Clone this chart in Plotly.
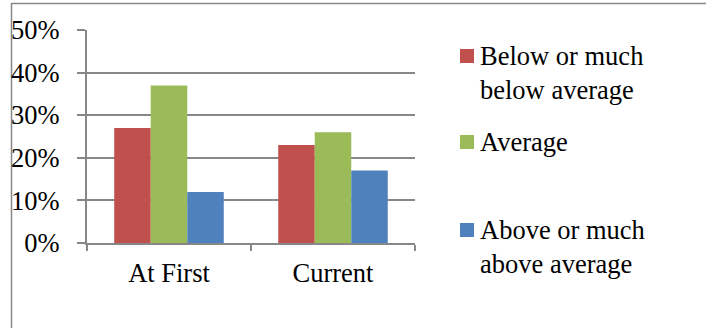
import plotly.graph_objects as go

# Survey results: share of respondents per rating, at first vs. currently
categories = ["At First", "Current"]
series_names = ["Below or much<br>below average", "Average", "Above or much<br>above average"]
below_values = [0.27, 0.23]
average_values = [0.37, 0.26]
above_values = [0.12, 0.17]
series_colors = ["#C0504D", "#9BBB59", "#4F81BD"]
y_ticks = [0, 0.1, 0.2, 0.3, 0.4, 0.5]

W, H = 706, 328
L, R, T, B = 87, 291, 30, 85
plot_w, plot_h = W - L - R, H - T - B

def px_x(px):
    return (px - L) / plot_w

def px_y(py):
    return (H - B - py) / plot_h

FONT = "Liberation Serif"
FS = 26.5
GRID = "#878787"

fig = go.Figure()
for name, vals, col in zip(series_names, [below_values, average_values, above_values], series_colors):
    fig.add_trace(go.Bar(x=categories, y=vals, name=name, marker=dict(color=col, line=dict(width=0)),
                         showlegend=False))

# Legend drawn as swatches + text on the right
legend_rows = [(49, 45), (135, 131), (223, 219)]
shapes = []
annotations = []
for (sq_top, txt_top), name, col in zip(legend_rows, series_names, series_colors):
    shapes.append(dict(type="rect", xref="paper", yref="paper",
                       x0=px_x(460), x1=px_x(474), y0=px_y(sq_top + 14), y1=px_y(sq_top),
                       fillcolor=col, line=dict(width=0)))
    annotations.append(dict(text=name, xref="paper", yref="paper", x=px_x(478), y=px_y(txt_top - 6),
                            xanchor="left", yanchor="top", align="left", showarrow=False,
                            font=dict(family=FONT, size=FS, color="#000000")))

# Chart frame
shapes.append(dict(type="rect", xref="paper", yref="paper",
                   x0=px_x(11.5), x1=px_x(720), y0=px_y(340), y1=px_y(3.5),
                   line=dict(color=GRID, width=1.5), layer="below"))

fig.update_layout(
    template="none",
    width=W, height=H,
    margin=dict(l=L, r=R, t=T, b=B, pad=0),
    paper_bgcolor="white", plot_bgcolor="white",
    barmode="group", bargap=0.332, bargroupgap=0,
    font=dict(family=FONT, size=FS, color="#000000"),
    shapes=shapes, annotations=annotations,
    xaxis=dict(showline=True, linecolor=GRID, linewidth=2, ticks="outside", tickson="boundaries",
               ticklen=6, tickwidth=2, tickcolor=GRID, showgrid=False, zeroline=False,
               ticklabelstandoff=5, tickfont=dict(family=FONT, size=FS, color="#000000")),
    yaxis=dict(range=[0, 0.5], tickvals=y_ticks, tickformat=".0%", showline=True, linecolor=GRID,
               linewidth=2, ticks="outside", ticklen=8, tickwidth=2, tickcolor=GRID,
               showgrid=True, gridcolor=GRID, gridwidth=2, zeroline=False,
               ticklabelstandoff=12, tickfont=dict(family=FONT, size=FS, color="#000000")),
)

fig.write_html("out.html")
